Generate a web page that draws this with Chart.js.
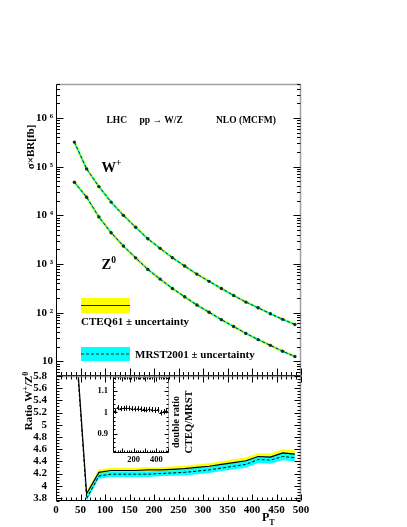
<!DOCTYPE html>
<html>
<head>
<meta charset="utf-8">
<script src="https://cdn.jsdelivr.net/npm/chart.js@4.4.1/dist/chart.umd.min.js"></script>
<style>
  body { margin: 0; background: #fff; }
  #wrap { position: relative; width: 407px; height: 527px; }
  #wrap canvas { position: absolute; left: 0; top: 0; }
</style>
</head>
<body>
<div id="wrap">
  <canvas id="mainChart" width="407" height="527"></canvas>
  <canvas id="ratioChart" width="407" height="527"></canvas>
  <canvas id="insetChart" width="407" height="527"></canvas>
</div>
<script>
// ===== DATA =====
const ptBins = [37.5, 62.5, 87.5, 112.5, 137.5, 162.5, 187.5, 212.5, 237.5, 262.5,
                287.5, 312.5, 337.5, 362.5, 387.5, 412.5, 437.5, 462.5, 487.5];

// sigma x BR [fb]
const wPlus = [3.2e5, 9.0e4, 3.9e4, 1.87e4, 1.0e4, 5.7e3, 3.3e3, 2.1e3, 1.35e3, 910,
               620, 440, 315, 226, 165, 126, 95, 73, 57];
const zZero = [4.8e4, 2.36e4, 9.3e3, 4.4e3, 2.35e3, 1.34e3, 775, 490, 315, 212,
               144, 102, 72, 52, 37.5, 28, 21.3, 16.1, 12.6];

// ratio W+/Z0
const ratioCteq    = [6.72, 3.87, 4.22, 4.25, 4.25, 4.25, 4.26, 4.26, 4.27, 4.28,
                      4.30, 4.32, 4.35, 4.38, 4.41, 4.48, 4.47, 4.54, 4.52];
const ratioCteqErr = [0.05, 0.045, 0.045, 0.045, 0.045, 0.045, 0.045, 0.045, 0.045, 0.05,
                      0.05, 0.05, 0.05, 0.055, 0.055, 0.055, 0.06, 0.06, 0.06];
const ratioMrst    = [6.65, 3.79, 4.16, 4.19, 4.19, 4.19, 4.19, 4.20, 4.21, 4.22,
                      4.24, 4.26, 4.29, 4.32, 4.35, 4.43, 4.42, 4.48, 4.46];
const ratioMrstErr = [0.05, 0.045, 0.045, 0.045, 0.045, 0.045, 0.045, 0.045, 0.045, 0.05,
                      0.05, 0.05, 0.05, 0.055, 0.055, 0.055, 0.06, 0.06, 0.06];

// double ratio CTEQ/MRST
const doubleRatio    = [1.005, 1.022, 1.017, 1.018, 1.020, 1.019, 1.017, 1.016, 1.017, 1.015,
                        1.013, 1.012, 1.014, 1.013, 1.010, 1.012, 0.998, 1.003, 1.008];
const doubleRatioErr = [0.012, 0.012, 0.012, 0.012, 0.012, 0.012, 0.012, 0.012, 0.012, 0.012,
                        0.012, 0.012, 0.012, 0.012, 0.013, 0.013, 0.013, 0.013, 0.013];
const binHalfWidth = 12.5;

// tick labels
const logTicks    = [10, 100, 1e3, 1e4, 1e5, 1e6];
const ratioTicks  = [3.8, 4.0, 4.2, 4.4, 4.6, 4.8, 5.0, 5.2, 5.4, 5.6, 5.8];
const ptTicks     = [0, 50, 100, 150, 200, 250, 300, 350, 400, 450, 500];
const insetXTicks = [200, 400];
const insetYTicks = [0.9, 1.0, 1.1];

// ===== STYLE =====
const SERIF = '"Liberation Serif", "DejaVu Serif", serif';
const YELLOW = '#ffff00';
const CYAN = '#00ffff';
const tickFont = { family: SERIF, size: 11, weight: 'bold' };

const pts = arr => ptBins.map((p, i) => ({ x: p, y: arr[i] }));
const shift = (arr, err, s) => ptBins.map((p, i) => ({ x: p, y: arr[i] + s * err[i] }));
const supDigits = { 2: '\u00b2', 3: '\u00b3', 4: '\u2074', 5: '\u2075', 6: '\u2076' };

// ===== PLUGINS =====
function tickValues(min, max, major, minor, log) {
  const out = [];
  if (log) {
    for (let d = Math.floor(Math.log10(min)); d <= Math.ceil(Math.log10(max)); d++) {
      for (let k = 1; k <= 9; k++) {
        const v = k * Math.pow(10, d);
        if (v >= min && v <= max) out.push({ v, major: k === 1 });
      }
    }
  } else {
    for (let v = Math.ceil(min / minor - 1e-9) * minor; v <= max + 1e-9; v += minor) {
      const r = v / major;
      out.push({ v, major: Math.abs(r - Math.round(r)) < 1e-6 });
    }
  }
  return out;
}

const rootFrame = {
  id: 'rootFrame',
  afterDatasetsDraw(chart, args, o) {
    const { ctx, chartArea: a } = chart;
    const xs = chart.scales.x, ys = chart.scales.y;
    const L = Math.round(a.left) + 0.5, R = Math.round(a.right) - 0.5;
    const T = Math.round(a.top) + 0.5, B = Math.round(a.bottom) - 0.5;
    const line = (x1, y1, x2, y2) => { ctx.beginPath(); ctx.moveTo(x1, y1); ctx.lineTo(x2, y2); ctx.stroke(); };
    ctx.save();
    ctx.strokeStyle = '#a0a0a0';
    ctx.lineWidth = o.frameWidth || 1.5;
    line(L, T, R, T);
    line(R, T, R, B);
    ctx.strokeStyle = '#000';
    ctx.lineWidth = 1;
    line(L, T, L, B);
    line(L, B, R, B);
    tickValues(xs.min, xs.max, o.xMajor, o.xMinor, false).forEach(t => {
      const px = Math.round(xs.getPixelForValue(t.v)) + 0.5;
      const len = t.major ? o.len : o.len / 2;
      (o.xSides || []).forEach(s => s === 'bottom' ? line(px, B, px, B - len) : line(px, T, px, T + len));
    });
    tickValues(ys.min, ys.max, o.yMajor, o.yMinor, o.log).forEach(t => {
      const py = Math.round(ys.getPixelForValue(t.v)) + 0.5;
      const len = t.major ? o.len : o.len / 2;
      (o.ySides || []).forEach(s => s === 'left' ? line(L, py, L + len, py) : line(R, py, R - len, py));
    });
    ctx.restore();
  }
};

function drawRich(ctx, parts, align) {
  let w = 0;
  parts.forEach(p => {
    ctx.font = 'bold ' + p.size + 'px ' + SERIF;
    p.w = ctx.measureText(p.s).width;
    w += p.w;
  });
  let cx = align === 'center' ? -w / 2 : 0;
  parts.forEach(p => {
    ctx.font = 'bold ' + p.size + 'px ' + SERIF;
    ctx.fillText(p.s, cx, p.dy || 0);
    cx += p.w;
  });
}

const textLayer = {
  id: 'textLayer',
  afterDraw(chart, args, o) {
    const ctx = chart.ctx;
    (o.boxes || []).forEach(b => {
      ctx.save();
      ctx.fillStyle = b.fill;
      ctx.fillRect(b.x, b.y, b.w, b.h);
      ctx.strokeStyle = '#222';
      ctx.lineWidth = 1;
      if (b.dash) ctx.setLineDash(b.dash);
      ctx.beginPath();
      ctx.moveTo(b.x, b.y + b.h / 2);
      ctx.lineTo(b.x + b.w, b.y + b.h / 2);
      ctx.stroke();
      ctx.restore();
    });
    (o.items || []).forEach(it => {
      ctx.save();
      ctx.translate(it.x, it.y);
      if (it.rot) ctx.rotate(it.rot);
      ctx.fillStyle = '#000';
      ctx.textAlign = 'left';
      ctx.textBaseline = 'alphabetic';
      drawRich(ctx, it.parts, it.align);
      ctx.restore();
    });
  }
};

const errorBars = {
  id: 'errorBars',
  afterDatasetsDraw(chart) {
    const { ctx } = chart;
    const xs = chart.scales.x, ys = chart.scales.y;
    ctx.save();
    ctx.strokeStyle = '#000';
    ctx.lineWidth = 1;
    chart.data.datasets.forEach(ds => {
      if (!ds.errY) return;
      ds.data.forEach((d, i) => {
        const px = Math.round(xs.getPixelForValue(d.x)) + 0.5;
        const py = Math.round(ys.getPixelForValue(d.y)) + 0.5;
        ctx.beginPath();
        ctx.moveTo(px, ys.getPixelForValue(d.y - ds.errY[i]));
        ctx.lineTo(px, ys.getPixelForValue(d.y + ds.errY[i]));
        ctx.moveTo(xs.getPixelForValue(d.x - ds.errX), py);
        ctx.lineTo(xs.getPixelForValue(d.x + ds.errX), py);
        ctx.stroke();
      });
    });
    ctx.restore();
  }
};

Chart.register(rootFrame, textLayer, errorBars);

const baseOpts = {
  responsive: false,
  animation: false,
  events: [],
};

// ===== CROSS SECTIONS (top panel) =====
function curveSets(arr) {
  return [
    { data: pts(arr), borderColor: '#1a2a2a', borderWidth: 1, borderDash: [3, 2],
      pointRadius: 1.7, pointBackgroundColor: '#10302e', pointBorderWidth: 0, order: 0 },
    { data: pts(arr), borderColor: CYAN, borderWidth: 1.6, pointRadius: 0, order: 1 },
    { data: pts(arr), borderColor: YELLOW, borderWidth: 2.8, pointRadius: 0, order: 2 }
  ];
}

new Chart(document.getElementById('mainChart'), {
  type: 'line',
  data: { datasets: [...curveSets(wPlus), ...curveSets(zZero)] },
  options: {
    ...baseOpts,
    layout: { padding: { left: 0, top: 84, right: 106, bottom: 151 } },
    plugins: {
      legend: { display: false },
      tooltip: { enabled: false },
      rootFrame: { xMajor: 50, xMinor: 10, log: true, len: 7, xSides: ['bottom'], ySides: ['left', 'right'] },
      textLayer: {
        boxes: [
          { x: 81, y: 298, w: 49, h: 15, fill: YELLOW },
          { x: 81, y: 347, w: 49, h: 14, fill: CYAN, dash: [3, 2] }
        ],
        items: [
          { x: 34, y: 147, rot: -Math.PI / 2, align: 'center', parts: [{ s: '\u03c3\u00d7BR[fb]', size: 11 }] },
          { x: 106.5, y: 123, parts: [{ s: 'LHC', size: 9.5 }] },
          { x: 139.5, y: 123, parts: [{ s: 'pp \u2192 W/Z', size: 9.5 }] },
          { x: 216, y: 123, parts: [{ s: 'NLO (MCFM)', size: 9.5 }] },
          { x: 101.5, y: 172, parts: [{ s: 'W', size: 14.5 }, { s: '+', size: 9.5, dy: -6 }] },
          { x: 101.5, y: 269, parts: [{ s: 'Z', size: 14.5 }, { s: '0', size: 9.5, dy: -6 }] },
          { x: 81, y: 325, parts: [{ s: 'CTEQ61 \u00b1 uncertainty', size: 11 }] },
          { x: 135, y: 358, parts: [{ s: 'MRST2001 \u00b1 uncertainty', size: 11 }] }
        ]
      }
    },
    scales: {
      x: { type: 'linear', min: 0, max: 500, display: false },
      y: {
        type: 'logarithmic', min: 5, max: 5e6,
        afterBuildTicks: s => { s.ticks = logTicks.map(v => ({ value: v })); },
        afterFit: s => { s.width = 56; },
        grid: { display: false, drawTicks: false },
        border: { display: false },
        ticks: {
          padding: 3, color: '#000', font: tickFont, autoSkip: false,
          callback: v => {
            const e = Math.round(Math.log10(v));
            return e === 1 ? '10' : '10 ' + supDigits[e];
          }
        }
      }
    }
  }
});

// ===== RATIO PANEL =====
new Chart(document.getElementById('ratioChart'), {
  type: 'line',
  data: {
    datasets: [
      { data: pts(ratioMrst), borderColor: '#000', borderWidth: 1, borderDash: [3, 2], pointRadius: 0, order: 0 },
      { data: pts(ratioCteq), borderColor: '#000', borderWidth: 1.2, pointRadius: 0, order: 1 },
      { data: shift(ratioMrst, ratioMrstErr, 1), borderWidth: 0, pointRadius: 0, fill: '+1',
        backgroundColor: CYAN, order: 2 },
      { data: shift(ratioMrst, ratioMrstErr, -1), borderWidth: 0, pointRadius: 0, fill: false, order: 2 },
      { data: shift(ratioCteq, ratioCteqErr, 1), borderWidth: 0, pointRadius: 0, fill: '+1',
        backgroundColor: YELLOW, order: 3 },
      { data: shift(ratioCteq, ratioCteqErr, -1), borderWidth: 0, pointRadius: 0, fill: false, order: 3 }
    ]
  },
  options: {
    ...baseOpts,
    layout: { padding: { left: 0, top: 376, right: 106, bottom: 0 } },
    plugins: {
      legend: { display: false },
      tooltip: { enabled: false },
      filler: { propagate: false },
      rootFrame: { xMajor: 50, xMinor: 10, yMajor: 0.2, yMinor: 0.05, len: 6,
                   xSides: ['bottom', 'top'], ySides: ['left', 'right'] },
      textLayer: {
        items: [
          { x: 32, y: 401, rot: -Math.PI / 2, align: 'center',
            parts: [{ s: 'Ratio W', size: 11 }, { s: '+', size: 8, dy: -4 }, { s: '/Z', size: 11 }, { s: '0', size: 8, dy: -4 }] },
          { x: 262, y: 521, parts: [{ s: 'P', size: 12 }, { s: 'T', size: 8, dy: 4 }] }
        ]
      }
    },
    scales: {
      x: {
        type: 'linear', min: 0, max: 500,
        afterBuildTicks: s => { s.ticks = ptTicks.map(v => ({ value: v })); },
        afterFit: s => { s.height = 26; },
        grid: { display: false, drawTicks: false },
        border: { display: false },
        ticks: { padding: 3, color: '#000', font: tickFont, maxRotation: 0, autoSkip: false }
      },
      y: {
        type: 'linear', min: 3.75, max: 5.8,
        afterBuildTicks: s => { s.ticks = ratioTicks.map(v => ({ value: v })); },
        afterFit: s => { s.width = 56; },
        grid: { display: false, drawTicks: false },
        border: { display: false },
        ticks: { padding: 9, color: '#000', font: tickFont, autoSkip: false,
                 callback: v => String(Math.round(v * 10) / 10) }
      }
    }
  }
});

// ===== INSET: DOUBLE RATIO =====
new Chart(document.getElementById('insetChart'), {
  type: 'scatter',
  data: {
    datasets: [
      { data: pts(doubleRatio), errY: doubleRatioErr, errX: binHalfWidth,
        pointRadius: 0.8, pointBackgroundColor: '#000', pointBorderWidth: 0 }
    ]
  },
  options: {
    ...baseOpts,
    layout: { padding: { left: 0, top: 377, right: 238, bottom: 62 } },
    plugins: {
      legend: { display: false },
      tooltip: { enabled: false },
      rootFrame: { xMajor: 100, xMinor: 20, yMajor: 0.1, yMinor: 0.02, len: 4, frameWidth: 1,
                   xSides: ['bottom', 'top'], ySides: ['left', 'right'] },
      textLayer: {
        items: [
          { x: 178.5, y: 422, rot: -Math.PI / 2, align: 'center', parts: [{ s: 'double ratio', size: 10 }] },
          { x: 192, y: 422, rot: -Math.PI / 2, align: 'center', parts: [{ s: 'CTEQ/MRST', size: 10.5 }] }
        ]
      }
    },
    scales: {
      x: {
        type: 'linear', min: 20, max: 510,
        afterBuildTicks: s => { s.ticks = insetXTicks.map(v => ({ value: v })); },
        afterFit: s => { s.height = 12; },
        grid: { display: false, drawTicks: false },
        border: { display: false },
        ticks: { padding: 2, color: '#000', font: { family: SERIF, size: 8.5, weight: 'bold' }, maxRotation: 0, autoSkip: false }
      },
      y: {
        type: 'linear', min: 0.81, max: 1.165,
        afterBuildTicks: s => { s.ticks = insetYTicks.map(v => ({ value: v })); },
        afterFit: s => { s.width = 113; },
        grid: { display: false, drawTicks: false },
        border: { display: false },
        ticks: { padding: 5, color: '#000', font: { family: SERIF, size: 8.5, weight: 'bold' }, autoSkip: false,
                 callback: v => String(Math.round(v * 10) / 10) }
      }
    }
  }
});
</script>
</body>
</html>
